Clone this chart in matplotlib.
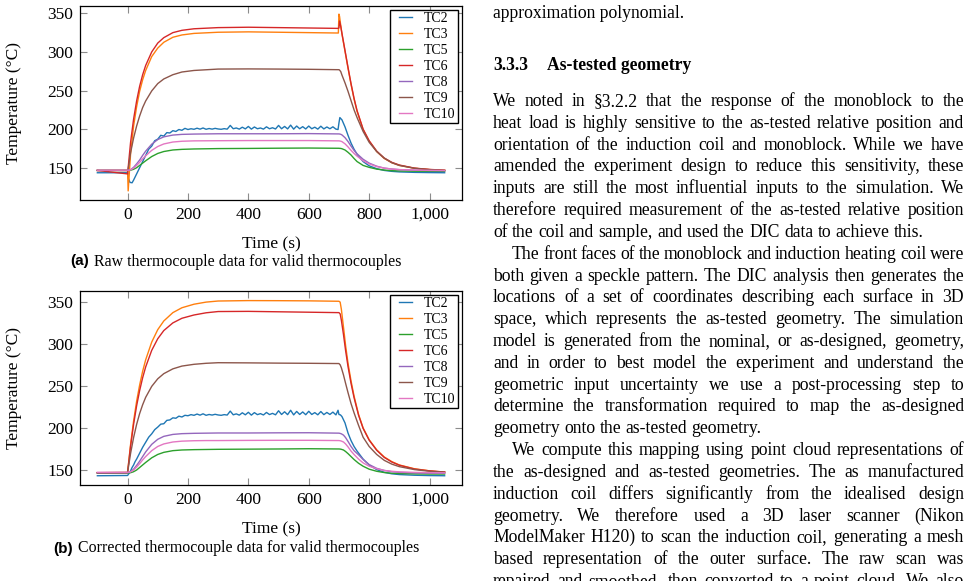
import matplotlib
matplotlib.use('Agg')
import matplotlib.pyplot as plt
from matplotlib.lines import Line2D
from matplotlib.legend_handler import HandlerLine2D
from matplotlib.ticker import FuncFormatter

plt.rcParams['font.family'] = ['Liberation Serif', 'DejaVu Serif']

W, H = 972, 581

# ---------------- data: (a) raw thermocouple data ----------------
series_names = ['TC2', 'TC3', 'TC5', 'TC6', 'TC8', 'TC9', 'TC10']
series_colors = ['#1f77b4', '#ff7f0e', '#2ca02c', '#d62728', '#9467bd', '#8c564b', '#e377c2']

time_a = [-100, 0, 2, 10, 20, 30, 40, 50, 60, 80, 100, 120, 150, 180, 220, 300, 400, 500, 600,
          698, 700, 702, 706, 710, 720, 730, 740, 750, 760, 780, 800, 825, 850, 875, 900, 950, 1000, 1050]
tc3_a = [146.5, 146.5, 120, 168, 204, 229, 249, 264, 276, 294, 305, 312.5, 319, 322, 324, 325.5, 326, 325.5, 325,
         324.5, 349, 346, 334, 323, 301, 279, 258, 239, 223, 199.5, 184.5, 171, 162, 156.5, 153, 149.3, 147.6, 146.6]
tc6_a = [146.5, 142, 150, 183, 213, 236.5, 255.5, 270.5, 282.5, 300, 311.5, 318.5, 325, 328, 330, 331.5, 332, 331.5, 331,
         330.5, 331, 340, 333, 324, 302, 280, 259, 240, 224, 200, 185, 171.5, 162.5, 157, 153.5, 149.5, 147.8, 146.8]
tc9_a = [146.5, 146.5, 148, 169.5, 188.5, 204, 217, 228, 236.5, 249.5, 259, 265, 270.5, 274, 276, 277.8, 278, 277.8, 277.5,
         277, 277, 276.5, 274.5, 270, 260, 249, 237, 225, 215, 197, 183, 171, 162.5, 156.5, 153, 149.3, 147.5, 146.5]
tc8_a = [146.5, 146.5, 146.5, 147.5, 150.5, 155, 160, 166, 171.5, 180.5, 186.5, 190, 192.3, 193.2, 193.6, 194, 194, 194, 194.2,
         193.8, 193.8, 193.7, 193.3, 192.5, 189, 184, 178, 172.5, 168, 161, 156, 152, 149.5, 148.3, 147.5, 146.8, 146.4, 146.2]
tc10_a = [146.8, 146.8, 146.8, 147.3, 149.5, 153, 157, 161.5, 165.5, 172.5, 177.5, 180.8, 183.3, 184.3, 184.8, 185, 185.2, 185.2, 185.2,
          184.8, 184.8, 184.7, 184.4, 183.8, 181, 177, 172.5, 168.5, 165, 159, 155, 151.5, 149.5, 148.3, 147.6, 147, 146.6, 146.4]
tc5_a = [146.5, 146.5, 146.5, 146.8, 148, 150, 153, 156, 159, 164.5, 168.5, 171, 173, 173.8, 174.3, 174.8, 175, 175.3, 175.5,
         175.2, 175.2, 175.1, 175, 174.6, 173, 170, 166.5, 162, 158, 153, 150.5, 148.2, 147, 146.2, 145.8, 145.5, 145.4, 145.3]

time_tc2_a = [-100, 0, 3, 8, 15, 20, 25, 30, 40, 50, 60, 70, 80, 90, 100, 110, 120, 130, 140, 150, 160, 170, 180, 190, 200,
              210, 220, 230, 240, 250, 260, 270, 280, 290, 300, 310, 320, 330, 340, 350, 360, 370, 380, 390, 400,
              410, 420, 430, 440, 450, 460, 470, 480, 490, 500, 510, 520, 530, 540, 550, 560, 570, 580, 590, 600,
              610, 620, 630, 640, 650, 660, 670, 680, 690, 697, 700, 703, 710, 720, 730, 740, 750, 760, 780, 800,
              825, 850, 875, 900, 950, 1000, 1050]
tc2_a = [143.5, 143.5, 136, 131, 130.5, 134, 138, 142, 150, 158, 166, 174, 178, 185, 187, 192, 191, 195.5, 195, 198, 197, 199.5, 198.5, 201, 199.5,
         200.5, 199.8, 201.2, 200, 201.5, 199.8, 200.8, 200, 201, 200.2, 199.8, 200.6, 200, 204.8, 200.5, 201.5, 200, 202.5, 200.3, 203.5,
         200, 202.8, 200.5, 201.5, 200, 203, 200.5, 201.8, 200.2, 204.8, 200.5, 203.5, 200.3, 205.2, 200, 204, 200.5, 203.2, 200.2, 204,
         200.5, 202.5, 200, 203.8, 200.3, 202.8, 200.5, 203, 200, 199.5, 208, 215, 212, 203, 192, 182, 174, 167.5, 158, 152.5,
         148.8, 146.5, 145.3, 144.6, 144, 143.7, 143.5]

# ---------------- data: (b) corrected thermocouple data ----------------
time_b = [-100, 0, 10, 20, 30, 40, 50, 60, 80, 100, 120, 150, 180, 220, 260, 300, 400, 500, 600, 700,
          704, 708, 715, 722, 730, 740, 750, 765, 780, 800, 825, 850, 875, 900, 950, 1000, 1050]
tc3_b = [146.8, 147, 180.4, 208.2, 231.7, 251, 267.4, 281, 302, 316.8, 327.1, 337, 342.8, 347, 349.5, 350.8, 351.3, 351.2, 351, 350.5,
         349.5, 341, 320, 298, 277, 256, 238, 216, 200, 186, 174, 165.5, 160, 156, 151.5, 149, 147.5]
tc6_b = [146.8, 147, 178.3, 204.3, 226.3, 244.4, 259.7, 272.5, 292.2, 306, 315.7, 324.8, 330.3, 334.2, 336.8, 338.3, 338.5, 338, 337.5, 337,
         335.5, 328, 311, 292, 273, 253, 236, 215, 199.5, 185.5, 173.5, 165, 159.5, 155.7, 151.2, 149, 147.6]
tc9_b = [146.8, 147, 169.8, 188.6, 204.2, 217.1, 227.6, 236.4, 249.4, 258.4, 264.5, 270.2, 273.5, 275.6, 276.8, 277.5, 277.3, 277, 276.8, 276.5,
         275, 271.5, 263, 253, 242, 229, 218, 203, 189, 178, 168.5, 161.5, 157, 154, 150.5, 148.5, 147.5]
tc8_b = [146.5, 146.8, 148, 151, 155.5, 160.5, 166, 171.5, 180.5, 186.5, 190, 192.3, 193.2, 193.6, 193.8, 194, 194, 194.2, 194.3, 193.8,
         193.5, 193, 191.5, 188.5, 184, 178, 173, 168, 162.5, 156.5, 152, 149.5, 148, 147.2, 146.6, 146.3, 146.2]
tc10_b = [147.3, 147.3, 147.8, 150, 153.5, 157.5, 162, 166, 173, 178, 181, 183.3, 184.3, 184.8, 185, 185, 185.2, 185.3, 185.3, 185,
          184.8, 184.4, 183.3, 181, 177.5, 172.5, 168.5, 163, 158.5, 154.5, 151.5, 149.5, 148.5, 147.8, 147.2, 146.9, 146.7]
tc5_b = [146.5, 146.5, 146.8, 148, 150, 153, 156, 159, 164.5, 168.5, 171, 173, 173.8, 174.2, 174.4, 174.6, 174.8, 175, 175.3, 175,
         174.9, 174.6, 173.8, 172, 169.5, 166, 162.5, 158, 154.5, 151, 148.5, 147, 146.2, 145.8, 145.4, 145.2, 145.2]

time_tc2_b = [-100, 0, 5, 10, 15, 20, 25, 30, 40, 50, 60, 70, 80, 90, 100, 110, 120, 130, 140, 150, 160, 170, 180, 190, 200,
              210, 220, 230, 240, 250, 260, 270, 280, 290, 300, 310, 320, 330, 340, 350, 360, 370, 380, 390, 400,
              410, 420, 430, 440, 450, 460, 470, 480, 490, 500, 510, 520, 530, 540, 550, 560, 570, 580, 590, 600,
              610, 620, 630, 640, 650, 660, 670, 680, 690, 697, 700, 705, 710, 720, 730, 740, 750, 760, 780, 800,
              825, 850, 875, 900, 950, 1000, 1050]
tc2_b = [143.2, 143.5, 146, 149, 153, 156, 160, 163, 170, 177, 183, 189, 193, 198, 201, 204.5, 205, 209, 209.5, 212, 211.5, 214, 213, 215, 214.5,
         215.8, 215, 216.5, 215.2, 216.8, 215, 216, 215.3, 216.2, 215.4, 215, 215.8, 215.3, 220, 215.6, 216.7, 215.2, 218, 215.6, 218.6,
         215.2, 218.2, 215.8, 217, 215.4, 218.4, 215.9, 217.3, 215.6, 220.4, 216, 219.2, 215.8, 221, 215.5, 219.6, 216, 219, 215.7, 219.8,
         216, 218.2, 215.6, 219.5, 215.8, 218.4, 216, 218.8, 215.5, 221, 216, 215.5, 213.5, 206, 194, 185, 178, 172.5, 163, 156,
         150.5, 147.3, 145.5, 144.6, 143.8, 143.4, 143.2]

panel_a = {'TC2': (time_tc2_a, tc2_a), 'TC3': (time_a, tc3_a), 'TC5': (time_a, tc5_a), 'TC6': (time_a, tc6_a),
           'TC8': (time_a, tc8_a), 'TC9': (time_a, tc9_a), 'TC10': (time_a, tc10_a)}
panel_b = {'TC2': (time_tc2_b, tc2_b), 'TC3': (time_b, tc3_b), 'TC5': (time_b, tc5_b), 'TC6': (time_b, tc6_b),
           'TC8': (time_b, tc8_b), 'TC9': (time_b, tc9_b), 'TC10': (time_b, tc10_b)}

x_ticks = [0, 200, 400, 600, 800, 1000]
y_ticks = [150, 200, 250, 300, 350]
caption_a = 'Raw thermocouple data for valid thermocouples'
caption_b = 'Corrected thermocouple data for valid thermocouples'

# ---------------- page text ----------------
first_line = 'approximation polynomial.'
heading_num = '3.3.3'
heading_txt = 'As-tested geometry'
# (text, indent, justify)
body_lines = [
    ('We noted in §3.2.2 that the response of the monoblock to the', False, True),
    ('heat load is highly sensitive to the as-tested relative position and', False, True),
    ('orientation of the induction coil and monoblock.  While we have', False, True),
    ('amended the experiment design to reduce this sensitivity, these', False, True),
    ('inputs are still the most influential inputs to the simulation.  We', False, True),
    ('therefore required measurement of the as-tested relative position', False, True),
    ('of the coil and sample, and used the DIC data to achieve this.', False, False),
    ('The front faces of the monoblock and induction heating coil were', True, True),
    ('both given a speckle pattern.  The DIC analysis then generates the', False, True),
    ('locations of a set of coordinates describing each surface in 3D', False, True),
    ('space, which represents the as-tested geometry.  The simulation', False, True),
    ('model is generated from the nominal, or as-designed, geometry,', False, True),
    ('and in order to best model the experiment and understand the', False, True),
    ('geometric input uncertainty we use a post-processing step to', False, True),
    ('determine the transformation required to map the as-designed', False, True),
    ('geometry onto the as-tested geometry.', False, False),
    ('We compute this mapping using point cloud representations of', True, True),
    ('the as-designed and as-tested geometries.  The as manufactured', False, True),
    ('induction coil differs significantly from the idealised design', False, True),
    ('geometry.   We therefore used a 3D laser scanner (Nikon', False, True),
    ('ModelMaker H120) to scan the induction coil, generating a mesh', False, True),
    ('based representation of the outer surface.  The raw scan was', False, True),
    ('repaired and smoothed, then converted to a point cloud. We also', False, True),
]

# ---------------- figure ----------------
fig = plt.figure(figsize=(W / 100, H / 100), dpi=100)
fig.patch.set_facecolor('white')


def fx(x):
    return x / W


def fy(y):
    return 1 - y / H


def make_panel(rect_px, ylim, data):
    l, t, r, b = rect_px
    ax = fig.add_axes([fx(l), fy(b), (r - l) / W, (b - t) / H])
    for name, col in zip(series_names, series_colors):
        tt, vv = data[name]
        ax.plot(tt, vv, color=col, lw=1.0, label=name)
    ax.set_xlim(-157.5, 1107.5)
    ax.set_ylim(*ylim)
    ax.set_xticks(x_ticks)
    ax.set_yticks(y_ticks)
    ax.xaxis.set_major_formatter(FuncFormatter(lambda v, p: f'{v:,.0f}'))
    ax.tick_params(direction='in', top=True, right=True, length=5, width=0.8,
                   color='#8c8c8c', labelsize=12.5, pad=5)
    for s in ax.spines.values():
        s.set_linewidth(0.9)
        s.set_color('black')
    ax.set_xlabel('Time (s)', fontsize=12.5)
    ax.set_ylabel('Temperature (°C)', fontsize=12.5)
    ax.xaxis.set_label_coords(0.5, -0.19)
    ax.yaxis.set_label_coords(-0.152, 0.5)
    leg = ax.legend(loc='upper right', fontsize=10, frameon=True, fancybox=False,
                    edgecolor='black', framealpha=1, borderpad=0.15, labelspacing=0.215,
                    handlelength=1.45, handletextpad=0.9, borderaxespad=0.3,
                    handler_map={Line2D: HandlerLine2D(xpad=0.5)})
    leg.get_frame().set_linewidth(1.0)
    return ax


ax_a = make_panel((80, 6, 462, 200), (108.2, 359.5), panel_a)
ax_b = make_panel((80, 291, 462, 485), (132.2, 362.7), panel_b)

renderer = fig.canvas.get_renderer()


def width_of(s, **kw):
    t = fig.text(0, 0, s, **kw)
    w = t.get_window_extent(renderer).width
    t.remove()
    return w


# captions
def caption(label, text, cx, base_y):
    kw_l = dict(fontsize=11, family=['Liberation Sans'], weight='bold')
    kw_t = dict(fontsize=11.4)
    wl = width_of(label, **kw_l)
    wt = width_of(text, **kw_t)
    gap = 5
    x0 = cx - (wl + gap + wt) / 2
    fig.text(fx(x0), fy(base_y), label, ha='left', va='baseline', **kw_l)
    fig.text(fx(x0 + wl + gap), fy(base_y), text, ha='left', va='baseline', **kw_t)


caption('(a)', caption_a, 236, 265.5)
caption('(b)', caption_b, 236, 552.5)

# right column text
BODY = 12.7
LEFT, RIGHT = 493, 964
INDENT = 19
space_w = width_of('a a', fontsize=BODY) - width_of('aa', fontsize=BODY)

fig.text(fx(LEFT), fy(18.5), first_line, fontsize=BODY, ha='left', va='baseline')
fig.text(fx(LEFT), fy(70), heading_num, fontsize=BODY, weight='bold', ha='left', va='baseline')
fig.text(fx(546.7), fy(70), heading_txt, fontsize=BODY, weight='bold', ha='left', va='baseline')

base0 = 106.0
pitch = 21.82
for i, (line, indent, justify) in enumerate(body_lines):
    y = base0 + pitch * i
    x_start = LEFT + (INDENT if indent else 0)
    words = line.split()
    widths = [width_of(w, fontsize=BODY) for w in words]
    if justify and len(words) > 1:
        gap = (RIGHT - x_start - sum(widths)) / (len(words) - 1)
    else:
        gap = space_w
    x = x_start
    for w, wd in zip(words, widths):
        fig.text(fx(x), fy(y), w, fontsize=BODY, ha='left', va='baseline')
        x += wd + gap

fig.savefig('out.png', dpi=100, facecolor='white')
